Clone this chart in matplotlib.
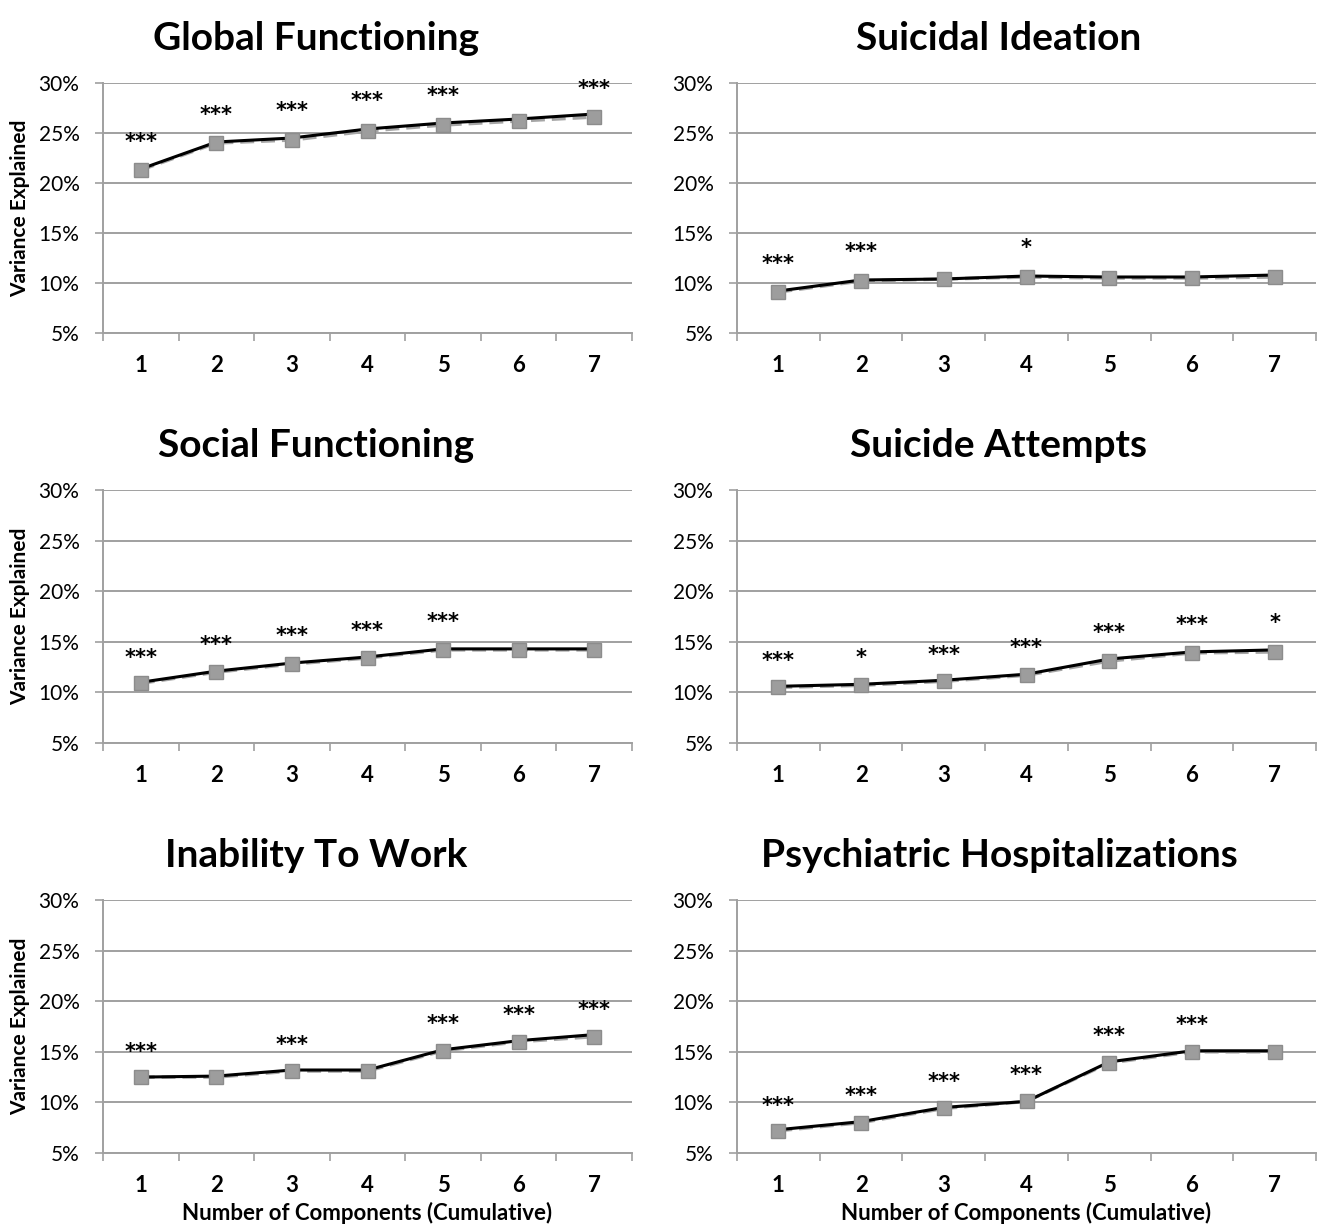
import numpy as np
import matplotlib.pyplot as plt
from matplotlib.ticker import FuncFormatter

plt.rcParams['font.family'] = ['Lato', 'DejaVu Sans']

components = [1, 2, 3, 4, 5, 6, 7]

titles = ["Global Functioning", "Suicidal Ideation",
          "Social Functioning", "Suicide Attempts",
          "Inability To Work", "Psychiatric Hospitalizations"]

# black series (full model) and gray series (dashed, squares)
black_vals = [
    [21.4, 24.1, 24.5, 25.4, 26.0, 26.4, 26.9],
    [9.2, 10.3, 10.4, 10.7, 10.6, 10.6, 10.8],
    [11.0, 12.1, 12.9, 13.5, 14.3, 14.3, 14.3],
    [10.6, 10.8, 11.2, 11.8, 13.3, 14.0, 14.2],
    [12.5, 12.6, 13.2, 13.2, 15.2, 16.1, 16.7],
    [7.3, 8.1, 9.5, 10.1, 14.0, 15.1, 15.1],
]
gray_vals = [
    [21.3, 24.0, 24.3, 25.2, 25.8, 26.2, 26.6],
    [9.1, 10.2, 10.4, 10.6, 10.5, 10.5, 10.6],
    [10.9, 12.0, 12.8, 13.4, 14.2, 14.2, 14.2],
    [10.5, 10.7, 11.1, 11.7, 13.1, 13.9, 14.0],
    [12.5, 12.5, 13.1, 13.1, 15.1, 16.0, 16.5],
    [7.2, 8.0, 9.4, 10.1, 13.9, 15.0, 15.0],
]
# significance labels and where they sit
sig_labels = [
    ["***", "***", "***", "***", "***", "", "***"],
    ["***", "***", "", "*", "", "", ""],
    ["***", "***", "***", "***", "***", "", ""],
    ["***", "*", "***", "***", "***", "***", "*"],
    ["***", "", "***", "", "***", "***", "***"],
    ["***", "***", "***", "***", "***", "***", ""],
]
sig_y = [
    [24.9, 27.6, 28.0, 29.0, 29.5, 0, 30.2],
    [12.7, 13.9, 0, 14.3, 0, 0, 0],
    [14.2, 15.5, 16.4, 16.9, 17.8, 0, 0],
    [13.9, 14.2, 14.5, 15.2, 16.7, 17.5, 17.7],
    [15.8, 0, 16.5, 0, 18.6, 19.5, 20.0],
    [10.5, 11.5, 12.8, 13.5, 17.4, 18.5, 0],
]

W, H = 1320, 1232
fig = plt.figure(figsize=(13.2, 12.32), dpi=100)

col_x = [(103, 632), (737, 1316)]
row_y = [(83, 333), (490, 743), (900, 1153)]
title_base = [50, 457, 867]
title_x = [316, 999]
grid_c = "#a0a0a0"

for i in range(6):
    r, c = divmod(i, 2)
    x0, x1 = col_x[c]
    yt, yb = row_y[r]
    ax = fig.add_axes([x0 / W, 1 - yb / H, (x1 - x0) / W, (yb - yt) / H])
    ax.plot(components, gray_vals[i], color="#a6a6a6", lw=2.5, ls=(0, (4, 2)), zorder=2)
    ax.plot(components, black_vals[i], color="black", lw=2.2, marker="s", ms=5, zorder=3)
    ax.plot(components, gray_vals[i], ls="none", marker="s", ms=10,
            color="#9d9d9d", mec="#8c8c8c", zorder=4)
    for xv, lab, yv in zip(components, sig_labels[i], sig_y[i]):
        if lab:
            ax.annotate(lab, (xv, yv), xytext=(0, -6), textcoords="offset points",
                        ha="center", va="center", fontsize=15, fontweight="bold",
                        family="DejaVu Sans", zorder=5, annotation_clip=False)
    ax.set_xlim(0.5, 7.5)
    ax.set_ylim(5, 30)
    ax.set_yticks([5, 10, 15, 20, 25, 30])
    ax.yaxis.set_major_formatter(FuncFormatter(lambda v, p: f"{v:.0f}%"))
    ax.set_xticks(components)
    ax.set_xticks(np.arange(0.5, 8.0, 1.0), minor=True)
    ax.tick_params(axis="x", which="major", length=0, pad=16, labelsize=16)
    for t in ax.get_xticklabels():
        t.set_fontweight("bold")
    ax.tick_params(axis="x", which="minor", length=6, color=grid_c, width=1.2)
    ax.tick_params(axis="y", length=6, color=grid_c, width=1.2, labelsize=15, pad=11)
    ax.grid(axis="y", color=grid_c, lw=1.4)
    ax.set_axisbelow(True)
    for s in ["top", "right"]:
        ax.spines[s].set_visible(False)
    for s in ["left", "bottom"]:
        ax.spines[s].set_color(grid_c)
        ax.spines[s].set_linewidth(1.4)
    if c == 0:
        ax.set_ylabel("Variance Explained", fontsize=15, fontweight="bold", labelpad=6)
    if r == 2:
        ax.set_xlabel("Number of Components (Cumulative)", fontsize=16,
                      fontweight="bold", labelpad=4)
    fig.text(title_x[c] / W, 1 - title_base[r] / H, titles[i], ha="center", va="baseline",
             fontsize=28, fontweight="bold")

fig.savefig("out.png", dpi=100, facecolor="white")
